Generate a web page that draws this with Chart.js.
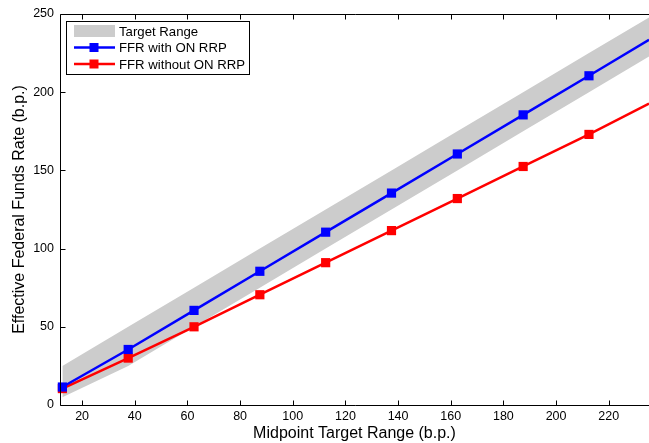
<!DOCTYPE html>
<html>
<head>
	<meta charset="utf-8">
	<title>FFR</title>
	<style>
		html, body { margin: 0; padding: 0; background: #fff; }
		#wrap { width: 649px; height: 443px; }
	</style>
</head>
<body>
	<div id="wrap"><canvas id="myChart"></canvas></div>
	<script src="https://cdn.jsdelivr.net/npm/chart.js@4/dist/chart.umd.min.js"></script>
	<script type="text/javascript">
		// values (b.p.)
		let midpoints = [12.5, 37.5, 62.5, 87.5, 112.5, 137.5, 162.5, 187.5, 212.5, 235.3];
		let rangeLow = [5, 25, 50, 75, 100, 125, 150, 175, 200, 222.8];
		let rangeHigh = [25, 50, 75, 100, 125, 150, 175, 200, 225, 247.8];
		let ffrWith = [11.5, 35.5, 60.5, 85.5, 110.5, 135.5, 160.5, 185.5, 210.5, 233.5];
		let ffrWithout = [10.5, 30, 50, 70.5, 91, 111.5, 132, 152.5, 173, 192.7];
		let xTicks = [20, 40, 60, 80, 100, 120, 140, 160, 180, 200, 220];
		let yTicks = [0, 50, 100, 150, 200, 250];

		let labels = ["Target Range", "FFR with ON RRP", "FFR without ON RRP"];
		let FONT = "'Liberation Sans', Arial, sans-serif";

		function pts(ys) {
			return midpoints.map((x, i) => ({x: x, y: ys[i]}));
		}
		// no marker on the last point (it sits on the cut-off right edge)
		let radii = midpoints.map((x, i) => i == midpoints.length - 1 ? 0 : 6.5);

		// axes lines with inward ticks (right side is cut off in the picture), and the legend
		let boxPlugin = {
			id: "box",
			afterDatasetsDraw(chart) {
				let ctx = chart.ctx, a = chart.chartArea;
				let xs = chart.scales.x, ys = chart.scales.y;
				let L = Math.round(a.left) + 0.5, T = Math.round(a.top) + 0.5, B = Math.round(a.bottom) + 0.5;
				ctx.save();
				ctx.strokeStyle = "#000";
				ctx.lineWidth = 1;
				ctx.beginPath();
				xTicks.forEach(v => {
					let p = Math.round(xs.getPixelForValue(v)) + 0.5;
					ctx.moveTo(p, B); ctx.lineTo(p, B - 5);
					ctx.moveTo(p, T); ctx.lineTo(p, T + 5);
				});
				yTicks.forEach(v => {
					let p = Math.round(ys.getPixelForValue(v)) + 0.5;
					ctx.moveTo(L, p); ctx.lineTo(L + 5, p);
				});
				ctx.moveTo(L, T); ctx.lineTo(a.right + 2, T);
				ctx.moveTo(L, T); ctx.lineTo(L, B);
				ctx.moveTo(L, B); ctx.lineTo(a.right + 2, B);
				ctx.stroke();

				// legend
				let lx = 66.5, ly = 21.5, lw = 183, lh = 53;
				ctx.fillStyle = "#fff";
				ctx.fillRect(lx, ly, lw, lh);
				ctx.strokeRect(lx, ly, lw, lh);
				ctx.font = "13.2px " + FONT;
				ctx.textBaseline = "middle";
				let rows = [31, 47.5, 64];
				ctx.fillStyle = "#cccccc";
				ctx.fillRect(74, rows[0] - 6, 41, 12);
				[["#0000ff", rows[1]], ["#ff0000", rows[2]]].forEach(r => {
					ctx.strokeStyle = r[0];
					ctx.lineWidth = 2.5;
					ctx.beginPath();
					ctx.moveTo(74, r[1]); ctx.lineTo(115, r[1]);
					ctx.stroke();
					ctx.fillStyle = r[0];
					ctx.fillRect(89.5, r[1] - 4.5, 9, 9);
				});
				ctx.fillStyle = "#000";
				labels.forEach((t, i) => ctx.fillText(t, 119, rows[i] + 1));
				ctx.restore();
			}
		};

		let config = {
			type: "line",
			data: {
				datasets: [
					{
						label: "low",
						data: pts(rangeLow),
						borderWidth: 0,
						pointRadius: 0,
						fill: false,
					},
					{
						label: labels[0],
						data: pts(rangeHigh),
						borderWidth: 0,
						pointRadius: 0,
						backgroundColor: "#cccccc",
						fill: "-1",
					},
					{
						label: labels[1],
						data: pts(ffrWith),
						borderColor: "#0000ff",
						backgroundColor: "#0000ff",
						borderWidth: 2.5,
						pointStyle: "rect",
						pointRadius: radii,
						pointBorderWidth: 0,
						fill: false,
						clip: false,
					},
					{
						label: labels[2],
						data: pts(ffrWithout),
						borderColor: "#ff0000",
						backgroundColor: "#ff0000",
						borderWidth: 2.5,
						pointStyle: "rect",
						pointRadius: radii,
						pointBorderWidth: 0,
						fill: false,
						clip: false,
					},
				],
			},
			options: {
				responsive: true,
				maintainAspectRatio: false,
				animation: false,
				layout: {autoPadding: false, padding: {top: 14, right: 0, left: 0, bottom: 0}},
				plugins: {
					legend: {display: false},
					tooltip: {enabled: false},
					filler: {drawTime: "beforeDatasetsDraw"},
				},
				scales: {
					x: {
						type: "linear",
						min: 11.6,
						max: 235.3,
						afterBuildTicks: s => { s.ticks = xTicks.map(v => ({value: v})); },
						afterFit: s => { s.height = 38; s.paddingLeft = 0; s.paddingRight = 0; },
						grid: {display: false, drawTicks: false},
						border: {display: false},
						ticks: {color: "#000", font: {family: FONT, size: 12.5}, padding: 4, maxRotation: 0},
						title: {display: true, text: "Midpoint Target Range (b.p.)", color: "#000",
							font: {family: FONT, size: 16}, padding: 0},
					},
					y: {
						min: 0,
						max: 250,
						afterBuildTicks: s => { s.ticks = yTicks.map(v => ({value: v})); },
						afterFit: s => { s.width = 60; s.paddingTop = 0; s.paddingBottom = 0; },
						grid: {display: false, drawTicks: false},
						border: {display: false},
						ticks: {color: "#000", font: {family: FONT, size: 12.5}, padding: 6},
						title: {display: true, text: "Effective Federal Funds Rate (b.p.)", color: "#000",
							font: {family: FONT, size: 16}, padding: {top: 10, bottom: 0}},
					},
				},
			},
			plugins: [boxPlugin],
		};

		let myChart = new Chart(document.getElementById("myChart").getContext("2d"), config);
	</script>
</body>
</html>
